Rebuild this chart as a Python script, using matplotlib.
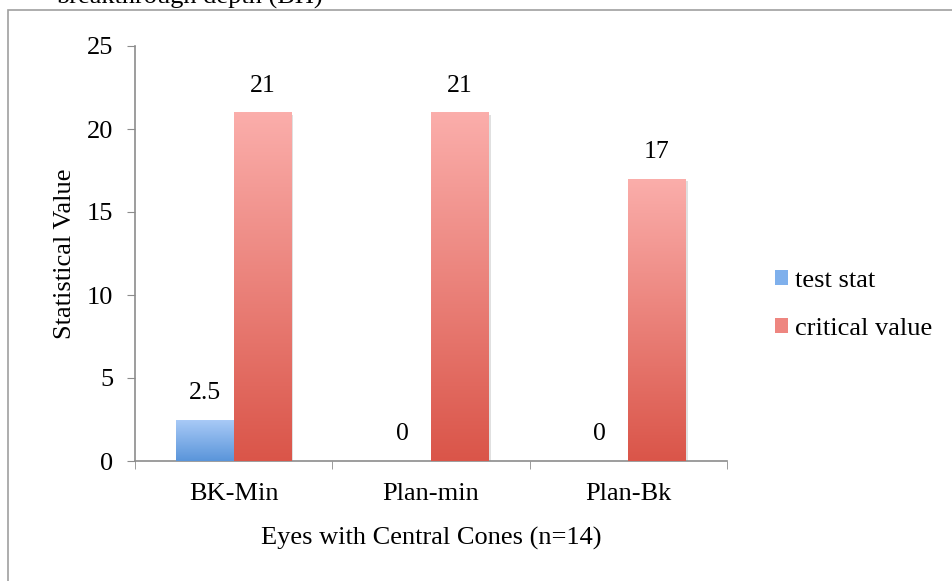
import numpy as np
import matplotlib
matplotlib.use('Agg')
import matplotlib.pyplot as plt
from matplotlib.patches import Patch, Rectangle
from matplotlib.colors import LinearSegmentedColormap

categories = ['BK-Min', 'Plan-min', 'Plan-Bk']
test_stat = [2.5, 0, 0]
critical_value = [21, 21, 17]
series_names = ['test stat', 'critical value']
y_ticks = [0, 5, 10, 15, 20, 25]

plt.rcParams['font.family'] = ['Liberation Serif', 'DejaVu Serif']

blue_map = LinearSegmentedColormap.from_list('blue', ['#5a95da', '#aacbf7'])
red_map = LinearSegmentedColormap.from_list('red', ['#da5549', '#fbaeab'])

fig = plt.figure(figsize=(9.52, 5.81), dpi=100)
ax = fig.add_axes([135 / 952, 1 - 461 / 581, 592 / 952, 415 / 581])

# outer chart frame, runs off the right and bottom edges
fig.patches.append(Rectangle((8 / 952, -0.1), 1.2, 1.1 - 10 / 581, transform=fig.transFigure,
                             fill=False, edgecolor='#a0a0a0', lw=1.2))
fig.text(323 / 952, 1 - 4 / 581, 'breakthrough depth (BH)', ha='right', va='baseline', fontsize=19)

x = np.arange(len(categories))
w = 0.29


def gradient_bars(xs, vals, cmap):
    bars = ax.bar(xs, vals, w, color='none', edgecolor='none', zorder=3)
    grad = np.linspace(0, 1, 256).reshape(-1, 1)
    for b, v in zip(bars, vals):
        if v <= 0:
            continue
        x0 = b.get_x()
        # soft shadow behind the bar
        ax.add_patch(Rectangle((x0 + 0.012, -0.15), w, v, color='#000000', alpha=0.12, zorder=2, lw=0))
        im = ax.imshow(grad, extent=[x0, x0 + w, 0, v], origin='lower', aspect='auto', cmap=cmap,
                       zorder=3, vmin=0, vmax=1)
        im.set_clip_path(b)
    return bars


gradient_bars(x - w / 2, test_stat, blue_map)
gradient_bars(x + w / 2, critical_value, red_map)

for xs, vals in [(x - w / 2, test_stat), (x + w / 2, critical_value)]:
    for xi, v in zip(xs, vals):
        ax.annotate(f'{v:g}', (xi, v), xytext=(0, 15), textcoords='offset points', ha='center',
                    va='baseline', fontsize=18.5)

ax.set_xlim(-0.5, 2.5)
ax.set_ylim(0, 25)
ax.set_yticks(y_ticks)
ax.set_xticks(x)
ax.set_xticklabels(categories)
ax.set_xticks([-0.5, 0.5, 1.5, 2.5], minor=True)
ax.tick_params(axis='x', which='major', length=0, pad=15.5, labelsize=19)
ax.tick_params(axis='x', which='minor', length=6, color='#8c8c8c')
ax.tick_params(axis='y', length=6, color='#8c8c8c', labelsize=19, pad=9.5)
for s in ['top', 'right']:
    ax.spines[s].set_visible(False)
for s in ['left', 'bottom']:
    ax.spines[s].set_color('#8c8c8c')
    ax.spines[s].set_linewidth(1.2)

ax.set_xlabel('Eyes with Central Cones (n=14)', fontsize=19, labelpad=16)
ax.set_ylabel('Statistical Value', fontsize=19, labelpad=8)

handles = [Patch(facecolor='#7fb0ec'), Patch(facecolor='#ee8680')]
fig.legend(handles, series_names, loc='center left', bbox_to_anchor=(775 / 952, 1 - 305 / 581),
           frameon=False, fontsize=19, handlelength=0.5, handleheight=0.5, handletextpad=0.25,
           labelspacing=1.0, borderpad=0, borderaxespad=0)

fig.savefig('out.png', dpi=100)
